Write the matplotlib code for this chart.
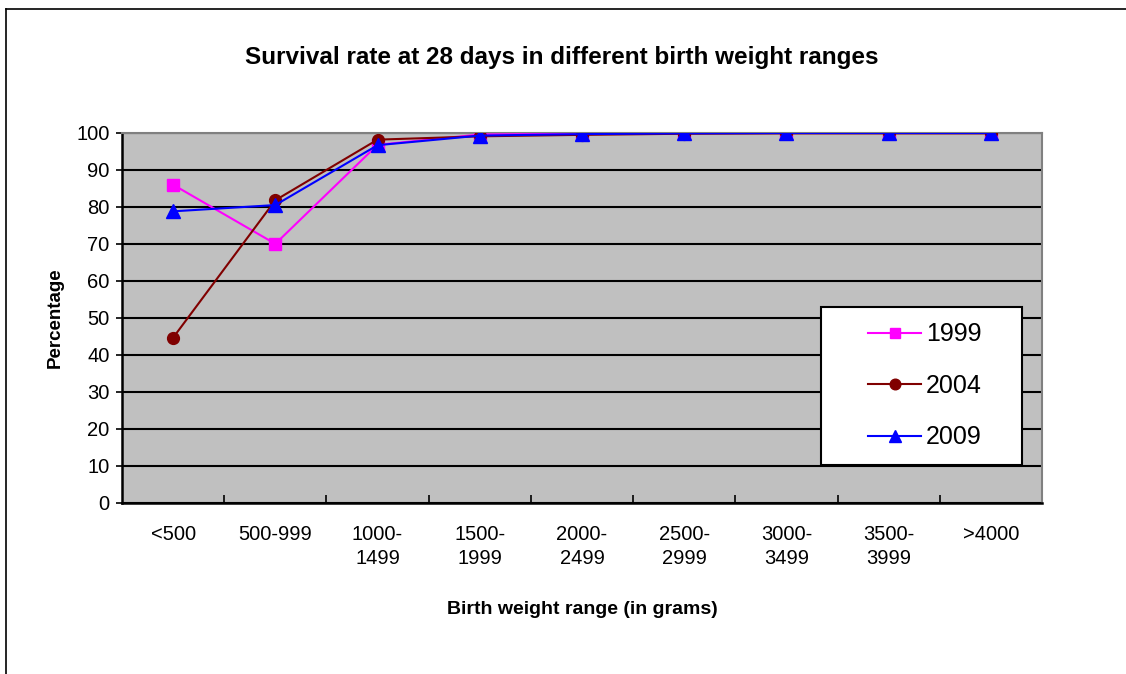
import matplotlib.pyplot as plt
from matplotlib.patches import Rectangle
from matplotlib.lines import Line2D

plt.rcParams['font.family'] = ['Liberation Sans', 'DejaVu Sans']

categories = ["<500", "500-999", "1000-\n1499", "1500-\n1999", "2000-\n2499",
              "2500-\n2999", "3000-\n3499", "3500-\n3999", ">4000"]
y1999 = [86.0, 70.0, 96.8, 99.6, 99.8, 100.0, 100.0, 100.0, 100.0]
y2004 = [44.6, 81.8, 98.2, 99.1, 99.5, 99.8, 99.9, 99.9, 99.9]
y2009 = [78.8, 80.5, 96.7, 99.3, 99.7, 99.9, 100.0, 100.0, 100.0]

fig = plt.figure(figsize=(11.26, 6.74), dpi=100)
ax = fig.add_axes([122 / 1126, 1 - 502.5 / 674, 920 / 1126, 369.5 / 674])
ax.set_facecolor("#c0c0c0")

x = list(range(len(categories)))
ax.plot(x, y1999, color="#ff00ff", lw=1.5, marker="s", ms=8.5, label="1999", zorder=3)
ax.plot(x, y2004, color="#800000", lw=1.5, marker="o", ms=8.5, label="2004", zorder=3)
ax.plot(x, y2009, color="#0000ff", lw=1.5, marker="^", ms=9.5, label="2009", zorder=4)

ax.set_xlim(-0.5, len(categories) - 0.5)
ax.set_ylim(0, 100)
ax.set_yticks(range(0, 101, 10))
ax.set_xticks(x)
ax.set_xticklabels(categories, fontsize=14.5, linespacing=1.35)
ax.set_xticks([i + 0.5 for i in range(len(categories) - 1)], minor=True)
ax.tick_params(axis="x", which="major", length=0, pad=16)
ax.tick_params(axis="x", which="minor", direction="in", length=6, width=1.2)
ax.tick_params(axis="y", direction="out", length=4, width=1.2, labelsize=14.5, pad=5)
ax.yaxis.grid(True, color="black", lw=1.5)
ax.set_axisbelow(True)

for s in ["left", "bottom"]:
    ax.spines[s].set_color("black")
    ax.spines[s].set_linewidth(1.8)
for s in ["right", "top"]:
    ax.spines[s].set_color("#808080")
    ax.spines[s].set_linewidth(1.5)

ax.set_title("Survival rate at 28 days in different birth weight ranges",
             fontsize=17.5, fontweight="bold", pad=50, x=0.478)
ax.set_xlabel("Birth weight range (in grams)", fontsize=14, fontweight="bold", labelpad=24)
ax.set_ylabel("Percentage", fontsize=13.5, fontweight="bold", labelpad=9)

# legend box
lx0, lx1 = (820.7 - 122) / 920, (1022 - 122) / 920
ly0, ly1 = (502.5 - 465) / 369.5, (502.5 - 306.7) / 369.5
ax.add_patch(Rectangle((lx0, ly0), lx1 - lx0, ly1 - ly0, transform=ax.transAxes,
                       facecolor="white", edgecolor="black", lw=1.5, zorder=5))
leg = ax.legend(loc="center", bbox_to_anchor=((lx0 + lx1) / 2 + 0.004, (ly0 + ly1) / 2),
                frameon=False, fontsize=18, handlelength=2.1, handletextpad=0.2,
                labelspacing=1.1, markerscale=0.9)
leg.set_zorder(6)

# outer chart border (left and top only visible)
fig.add_artist(Line2D([5.5 / 1126, 5.5 / 1126], [0, 1 - 9 / 674], color="black", lw=1.2))
fig.add_artist(Line2D([5.5 / 1126, 1], [1 - 9 / 674, 1 - 9 / 674], color="black", lw=1.2))

fig.savefig("out.png", dpi=100)
